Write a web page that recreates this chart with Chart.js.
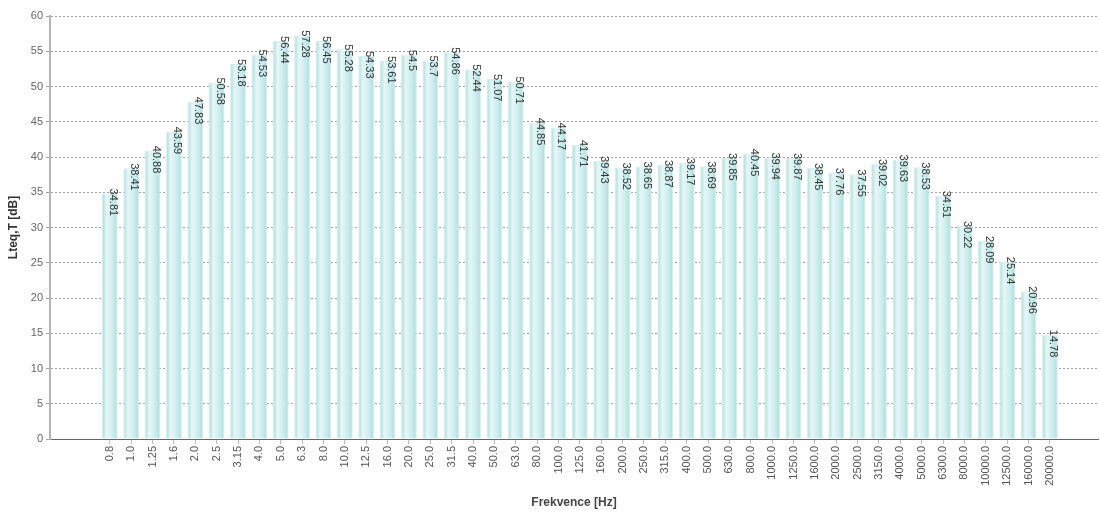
<!DOCTYPE html>
<html lang="cs">
  <head>
    <meta charset="UTF-8" />
    <style>
      html, body { margin: 0; padding: 0; background: #fff; }
      #wrap { width: 1100px; height: 520px; }
    </style>
    <script src="https://cdn.jsdelivr.net/npm/chart.js"></script>
    <title>Lteq spektrum</title>
  </head>
  <body>
    <div id="wrap"><canvas id="chart" width="1100" height="520"></canvas></div>
    <script>
      // frequency bands [Hz]
      const freqLabels = [
        "0.8", "1.0", "1.25", "1.6", "2.0", "2.5", "3.15", "4.0", "5.0", "6.3",
        "8.0", "10.0", "12.5", "16.0", "20.0", "25.0", "31.5", "40.0", "50.0", "63.0",
        "80.0", "100.0", "125.0", "160.0", "200.0", "250.0", "315.0", "400.0", "500.0", "630.0",
        "800.0", "1000.0", "1250.0", "1600.0", "2000.0", "2500.0", "3150.0", "4000.0", "5000.0", "6300.0",
        "8000.0", "10000.0", "12500.0", "16000.0", "20000.0"
      ];
      // Lteq,T [dB]
      const levels = [
        34.81, 38.41, 40.88, 43.59, 47.83, 50.58, 53.18, 54.53, 56.44, 57.28,
        56.45, 55.28, 54.33, 53.61, 54.5, 53.7, 54.86, 52.44, 51.07, 50.71,
        44.85, 44.17, 41.71, 39.43, 38.52, 38.65, 38.87, 39.17, 38.69, 39.85,
        40.45, 39.94, 39.87, 38.45, 37.76, 37.55, 39.02, 39.63, 38.53, 34.51,
        30.22, 28.09, 25.14, 20.96, 14.78
      ];
      const yTicks = { min: 0, max: 60, step: 5 };

      const FONT = "'Liberation Sans', Arial, sans-serif";

      // bar values written vertically above each bar
      const valueLabels = {
        id: "valueLabels",
        afterDatasetsDraw(chart) {
          const ctx = chart.ctx;
          const meta = chart.getDatasetMeta(0);
          ctx.save();
          ctx.font = "11px " + FONT;
          ctx.fillStyle = "#333";
          ctx.textAlign = "left";
          ctx.textBaseline = "middle";
          meta.data.forEach((bar, i) => {
            ctx.save();
            ctx.translate(bar.x + 3, bar.y - 5);
            ctx.rotate(Math.PI / 2);
            ctx.fillText(String(levels[i]), 0, 0);
            ctx.restore();
          });
          ctx.restore();
        },
      };

      function barFill(context) {
        if (context.type !== "data") return "#c6eaea";
        const chart = context.chart;
        const x = chart.scales.x ? chart.scales.x.getPixelForValue(context.dataIndex) : NaN;
        if (!isFinite(x)) return "#c6eaea";
        const g = chart.ctx.createLinearGradient(x - 8, 0, x + 8, 0);
        g.addColorStop(0, "#a6d9d9");
        g.addColorStop(0.3, "#e6f7f7");
        g.addColorStop(0.65, "#cdeeee");
        g.addColorStop(1, "#aedcdc");
        return g;
      }

      const ctx = document.getElementById("chart").getContext("2d");
      new Chart(ctx, {
        type: "bar",
        data: {
          datasets: [
            {
              label: "Lteq,T",
              data: levels.map((v, i) => ({ x: i, y: v })),
              backgroundColor: barFill,
              borderColor: "#d6eeee",
              borderWidth: 1,
              barPercentage: 0.8,
              categoryPercentage: 0.92,
            },
          ],
        },
        plugins: [valueLabels],
        options: {
          responsive: false,
          animation: false,
          layout: { padding: { top: 16, right: 2, bottom: 10, left: 6 } },
          plugins: { legend: { display: false }, tooltip: { enabled: false } },
          scales: {
            x: {
              type: "linear",
              min: -2.8,
              max: 46.25,
              bounds: "data",
              offset: false,
              afterFit(scale) { scale.height = 71; },
              // one tick per frequency band
              afterBuildTicks(scale) {
                scale.ticks = freqLabels.map((_, i) => ({ value: i }));
              },
              ticks: {
                autoSkip: false,
                minRotation: 90,
                maxRotation: 90,
                padding: 2,
                color: "#555",
                font: { family: FONT, size: 11 },
                callback: (v) => freqLabels[v] ?? "",
              },
              grid: { drawOnChartArea: false, offset: false, tickLength: 5, color: "#bbb" },
              border: { color: "#666", width: 1 },
              title: {
                display: true,
                text: "Frekvence [Hz]",
                color: "#444",
                font: { family: FONT, size: 12, weight: "bold" },
                padding: { top: 0, bottom: 0 },
              },
            },
            y: {
              min: yTicks.min,
              max: yTicks.max,
              afterFit(scale) { scale.width = 44; },
              ticks: {
                stepSize: yTicks.step,
                color: "#666",
                padding: 3,
                font: { family: FONT, size: 11 },
              },
              grid: { color: "#a0a0a0", tickLength: 4, lineWidth: 1 },
              border: { color: "#b4b4b4", width: 2, dash: [2, 2] },
              title: {
                display: true,
                text: "Lteq,T [dB]",
                color: "#333",
                font: { family: FONT, size: 12, weight: "bold" },
                padding: { top: 0, bottom: 0 },
              },
            },
          },
        },
      });
    </script>
  </body>
</html>
